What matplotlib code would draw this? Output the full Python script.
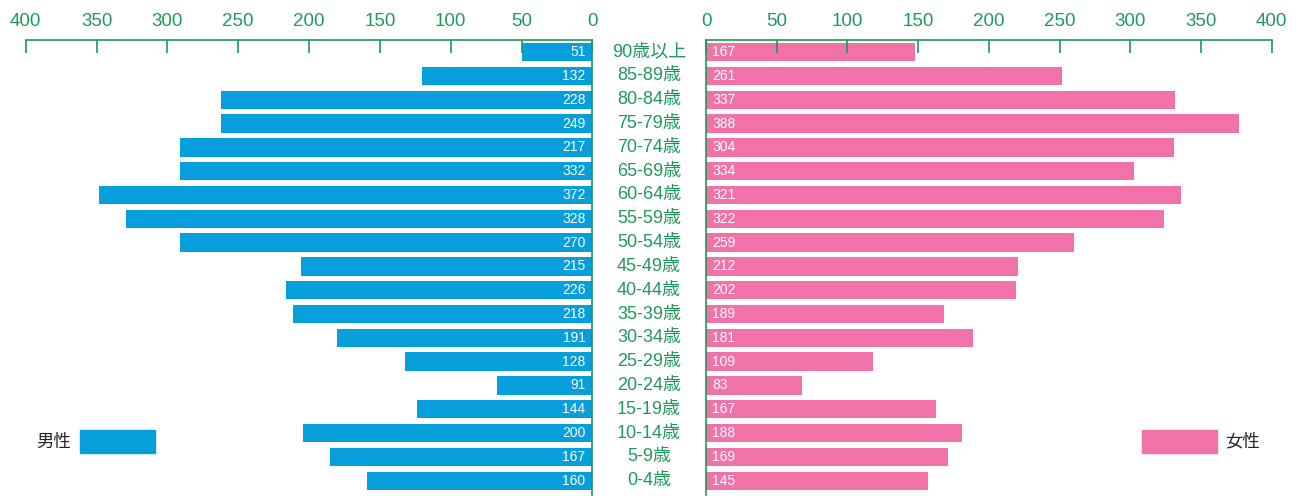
import matplotlib
matplotlib.use("Agg")
import matplotlib.pyplot as plt
from matplotlib.patches import Rectangle
from matplotlib.transforms import blended_transform_factory

plt.rcParams['font.family'] = ['Liberation Sans', 'Noto Sans CJK JP', 'DejaVu Sans']

# age groups, youngest first (drawn bottom to top)
ages = ["0-4歳", "5-9歳", "10-14歳", "15-19歳", "20-24歳", "25-29歳", "30-34歳",
        "35-39歳", "40-44歳", "45-49歳", "50-54歳", "55-59歳", "60-64歳",
        "65-69歳", "70-74歳", "75-79歳", "80-84歳", "85-89歳", "90歳以上"]

# bar lengths as drawn in the picture
male_bar = [159, 185, 204, 124, 67, 132, 180, 211, 216, 206, 291, 329, 348,
            291, 291, 262, 262, 120, 50]
female_bar = [157, 171, 181, 163, 68, 118, 189, 168, 219, 221, 260, 324, 336,
              303, 331, 377, 332, 252, 148]

# numbers printed inside the bars
male_label = [160, 167, 200, 144, 91, 128, 191, 218, 226, 215, 270, 328, 372,
              332, 217, 249, 228, 132, 51]
female_label = [145, 169, 188, 167, 83, 109, 181, 189, 202, 212, 259, 322, 321,
                334, 304, 388, 337, 261, 167]

ticks = [0, 50, 100, 150, 200, 250, 300, 350, 400]

BLUE = '#079fdb'
PINK = '#f072a9'
GREEN = '#1f9a5a'

W, H = 1301, 496
fig = plt.figure(figsize=(W / 100, H / 100), dpi=100)

top = 1 - 39.5 / H
bot = 1 / H
ax_l = fig.add_axes([25.7 / W, bot, 566.7 / W, top - bot])
ax_r = fig.add_axes([706.0 / W, bot, 565.6 / W, top - bot])

y = list(range(len(ages)))

ax_l.barh(y, male_bar, height=0.77, color=BLUE)
ax_r.barh(y, female_bar, height=0.77, color=PINK)

for ax in (ax_l, ax_r):
    ax.set_xlim(0, 400)
    ax.set_ylim(-0.6, len(ages) - 1 + 0.53)
    ax.xaxis.set_ticks_position('top')
    ax.set_xticks(ticks)
    ax.set_xticklabels([str(t) for t in ticks])
    ax.tick_params(axis='x', direction='in', length=9, width=1.2, color=GREEN,
                   labelcolor=GREEN, labelsize=13.5, pad=6.5)
    ax.set_yticks([])
    for s in ax.spines.values():
        s.set_visible(False)
    ax.spines['top'].set_visible(True)
    ax.spines['top'].set_color(GREEN)
    ax.spines['top'].set_linewidth(1.2)

ax_l.invert_xaxis()
ax_l.spines['right'].set_visible(True)
ax_l.spines['right'].set_color(GREEN)
ax_l.spines['right'].set_linewidth(1.2)
ax_r.spines['left'].set_visible(True)
ax_r.spines['left'].set_color(GREEN)
ax_r.spines['left'].set_linewidth(1.2)

# value labels inside the bars
for yi, v in zip(y, male_label):
    ax_l.annotate(str(v), (0, yi), xytext=(-5, 0), textcoords='offset points',
                  ha='right', va='center', color='white', fontsize=10)
for yi, v in zip(y, female_label):
    ax_r.annotate(str(v), (0, yi), xytext=(4.5, 0), textcoords='offset points',
                  ha='left', va='center', color='white', fontsize=10)

# age labels in the middle gap
tr = blended_transform_factory(fig.transFigure, ax_l.transData)
for yi, a in zip(y, ages):
    ax_l.text(649 / W, yi, a, transform=tr, ha='center', va='center',
              color=GREEN, fontsize=13, clip_on=False)

# legend boxes
fig.patches.append(Rectangle((80 / W, 1 - 452.5 / H), 75 / W, 22.5 / H,
                             transform=fig.transFigure, color=BLUE))
fig.text(36 / W, 1 - 441.5 / H, "男性", ha='left', va='center', fontsize=12.5,
         color='#222222')
fig.patches.append(Rectangle((1142 / W, 1 - 452.5 / H), 75 / W, 22.5 / H,
                             transform=fig.transFigure, color=PINK))
fig.text(1225 / W, 1 - 441.5 / H, "女性", ha='left', va='center', fontsize=12.5,
         color='#222222')

fig.savefig("out.png", dpi=100)
